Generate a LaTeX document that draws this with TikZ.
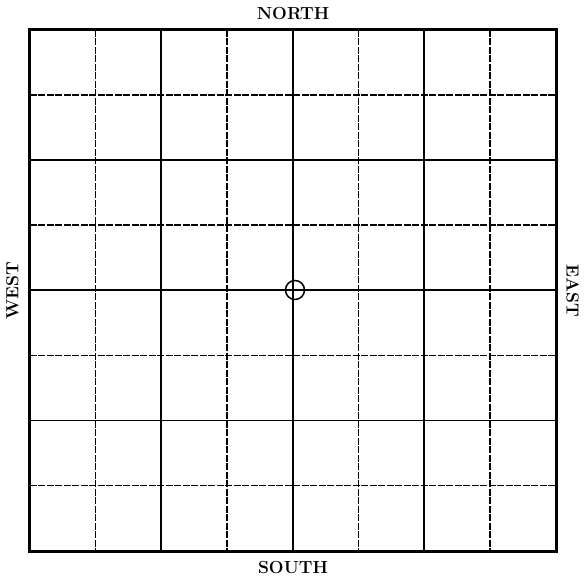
\documentclass[tikz,border=0pt]{standalone}
\usepackage{tikz}
\usetikzlibrary{positioning, calc}

\begin{document}
\begin{tikzpicture}[
  x=1pt, y=-1pt,
  frameline/.style={line width=3pt, black},
  majorline/.style={line width=1.8pt, black},
  minorline/.style={line width=1.4pt, black, dash pattern=on 7pt off 1.5pt},
  dirlabel/.style={font=\fontsize{17.5}{19}\selectfont\bfseries, inner sep=0pt},
  marker/.style={circle, draw, line width=1.5pt, minimum size=19pt, inner sep=0pt}
]
\useasboundingbox (0,0) rectangle (587,579);

% GRID 8 x 8
\node[minimum width=526pt, minimum height=521pt, inner sep=0pt] (grid) at (293,290.5) {};

\foreach \i/\sty in {1/minorline,2/majorline,3/minorline,4/majorline,5/minorline,6/majorline,7/minorline} {
  \draw[\sty] ($(grid.north west)+(\i*65.75,0)$) -- ($(grid.south west)+(\i*65.75,0)$);
  \draw[\sty] ($(grid.north west)+(0,\i*65.125)$) -- ($(grid.north east)+(0,\i*65.125)$);
}
\draw[frameline] (grid.north west) rectangle (grid.south east);

% centre mark
\node[marker] (centre) at (295,290) {};

% compass labels
\node[dirlabel, above=10pt of grid.north] (north) {NORTH};
\node[dirlabel, below=10pt of grid.south] (south) {SOUTH};
\node[dirlabel, rotate=90, anchor=south] (west) at ([xshift=-11pt]grid.west) {WEST};
\node[dirlabel, rotate=-90, anchor=south] (east) at ([xshift=10pt]grid.east) {EAST};

\end{tikzpicture}
\end{document}
